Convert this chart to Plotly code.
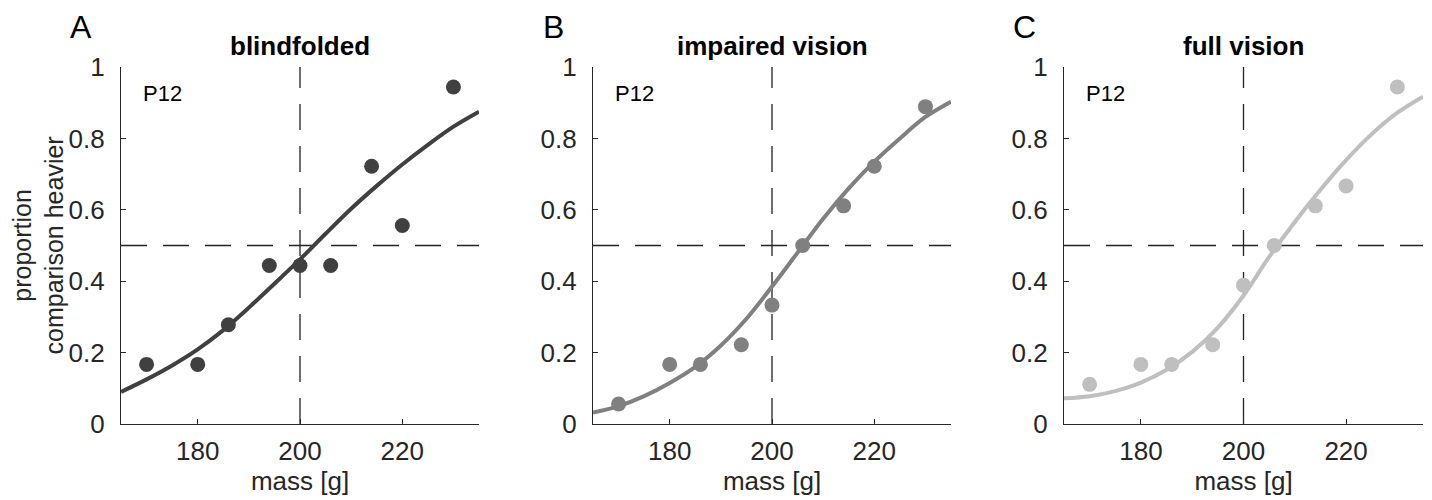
import plotly.graph_objects as go

# ---- data ----
mass = [170, 180, 186, 194, 200, 206, 214, 220, 230]
p_blind = [0.167, 0.167, 0.278, 0.444, 0.444, 0.444, 0.722, 0.556, 0.944]
p_impaired = [0.056, 0.167, 0.167, 0.222, 0.333, 0.500, 0.611, 0.722, 0.889]
p_full = [0.111, 0.167, 0.167, 0.222, 0.389, 0.500, 0.611, 0.667, 0.944]

fit_mass = [165, 170, 175, 180, 185, 190, 195, 200, 205, 210, 215, 220, 225, 230, 235]
fit_blind = [0.090, 0.125, 0.164, 0.209, 0.263, 0.326, 0.393, 0.461, 0.533, 0.603, 0.667, 0.727, 0.782, 0.833, 0.875]
fit_impaired = [0.032, 0.050, 0.078, 0.115, 0.160, 0.220, 0.295, 0.385, 0.480, 0.575, 0.660, 0.735, 0.800, 0.860, 0.903]
fit_full = [0.072, 0.078, 0.092, 0.116, 0.152, 0.202, 0.270, 0.360, 0.468, 0.566, 0.656, 0.739, 0.812, 0.872, 0.917]

titles = ["blindfolded", "impaired vision", "full vision"]
letters = ["A", "B", "C"]
participant = "P12"
colors = ["#404040", "#808080", "#bfbfbf"]

x_range = [165, 235]
y_range = [0, 1]
x_ticks = [180, 200, 220]
y_ticks = [0, 0.2, 0.4, 0.6, 0.8, 1]
y_ticklabels = ["0", "0.2", "0.4", "0.6", "0.8", "1"]
pse_ref = 200
p_ref = 0.5

# ---- layout geometry (pixels) ----
W, H = 1432, 500
panels_px = [(121, 479), (593, 951), (1064, 1423)]
top_px, bot_px = 67, 424

def fx(px):
    return px / W

def fy(py):
    return 1 - py / H

FONT = "Liberation Sans, Arial, sans-serif"
AX = "#262626"

fig = go.Figure()
obs = [p_blind, p_impaired, p_full]
fits = [fit_blind, fit_impaired, fit_full]

layout = dict(
    width=W, height=H, margin=dict(l=0, r=0, t=0, b=0, autoexpand=False),
    paper_bgcolor="white", plot_bgcolor="white", showlegend=False,
    font=dict(family=FONT, color=AX),
)
annotations = []

for i in range(3):
    xa = "x" if i == 0 else f"x{i+1}"
    ya = "y" if i == 0 else f"y{i+1}"
    xkey = "xaxis" if i == 0 else f"xaxis{i+1}"
    ykey = "yaxis" if i == 0 else f"yaxis{i+1}"
    l, r = panels_px[i]
    # reference dashed lines
    fig.add_trace(go.Scatter(x=x_range, y=[p_ref, p_ref], mode="lines", xaxis=xa, yaxis=ya,
                             line=dict(color="#222222", width=1.3, dash="26px,16px"), hoverinfo="skip"))
    fig.add_trace(go.Scatter(x=[pse_ref, pse_ref], y=y_range, mode="lines", xaxis=xa, yaxis=ya,
                             line=dict(color="#222222", width=1.3, dash="26px,16px"), hoverinfo="skip"))
    # fit
    fig.add_trace(go.Scatter(x=fit_mass, y=fits[i], mode="lines", xaxis=xa, yaxis=ya,
                             line=dict(color=colors[i], width=4, shape="spline", smoothing=1.0)))
    # observations
    fig.add_trace(go.Scatter(x=mass, y=obs[i], mode="markers", xaxis=xa, yaxis=ya,
                             marker=dict(color=colors[i], size=15, line=dict(width=0))))

    layout[xkey] = dict(domain=[fx(l), fx(r)], range=x_range, anchor=ya, automargin=False,
                        showline=True, linecolor=AX, linewidth=1.2, mirror=False,
                        showgrid=False, zeroline=False,
                        ticks="inside", ticklen=5, tickcolor=AX, tickwidth=1.2,
                        tickvals=x_ticks, ticktext=[str(v) for v in x_ticks],
                        tickfont=dict(size=26, color=AX, family=FONT),
                        ticklabelstandoff=4,
                        title=dict(text="mass [g]", font=dict(size=26, color=AX, family=FONT), standoff=2))
    layout[ykey] = dict(domain=[fy(bot_px), fy(top_px)], range=y_range, anchor=xa, automargin=False,
                        showline=True, linecolor=AX, linewidth=1.2, mirror=False,
                        showgrid=False, zeroline=False,
                        ticks="inside", ticklen=5, tickcolor=AX, tickwidth=1.2,
                        tickvals=y_ticks, ticktext=y_ticklabels,
                        tickfont=dict(size=26, color=AX, family=FONT),
                        ticklabelstandoff=10)
    # title
    annotations.append(dict(text="<b>" + titles[i] + "</b>", x=fx(l + 179),
                            y=fy(46), xref="paper", yref="paper", xanchor="center", yanchor="middle",
                            showarrow=False, font=dict(size=26, color="black", family=FONT)))
    # panel letter
    annotations.append(dict(text=letters[i], x=fx(l - 40), y=fy(27), xref="paper", yref="paper",
                            xanchor="center", yanchor="middle", showarrow=False,
                            font=dict(size=32, color="black", family=FONT)))
    # participant
    annotations.append(dict(text=participant, x=fx(l + 20), y=fy(94), xref="paper", yref="paper",
                            xanchor="left", yanchor="middle", showarrow=False,
                            font=dict(size=22, color="black", family=FONT)))

annotations.append(dict(text="proportion<br>comparison heavier", x=fx(38), y=fy(245.5),
                        xref="paper", yref="paper", xanchor="center", yanchor="middle",
                        textangle=-90, showarrow=False,
                        font=dict(size=25, color=AX, family=FONT)))
layout["annotations"] = annotations
fig.update_layout(**layout)
fig.write_html("out.html", config={"displayModeBar": False},
               post_script="document.body.style.margin='0';document.body.style.overflow='hidden';")
